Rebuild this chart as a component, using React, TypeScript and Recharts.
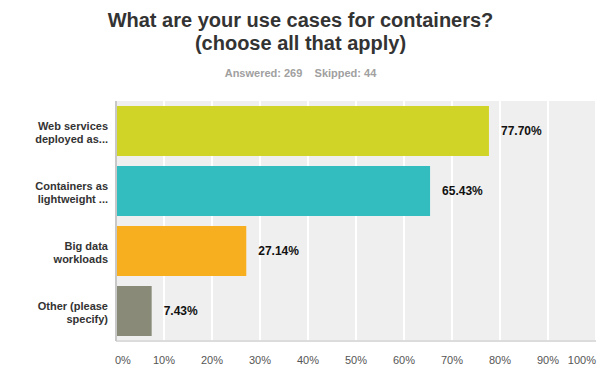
import { BarChart, Bar, XAxis, YAxis, CartesianGrid, Cell, LabelList } from "recharts";

const categories = [
  ["Web services", "deployed as..."],
  ["Containers as", "lightweight ..."],
  ["Big data", "workloads"],
  ["Other (please", "specify)"],
];
const values = [77.7, 65.43, 27.14, 7.43];
const colors = ["#d0d426", "#34bdbf", "#f7ae1f", "#898a78"];
const xTicks = [0, 10, 20, 30, 40, 50, 60, 70, 80, 90, 100];

const data = categories.map((lines, i) => ({ name: lines.join(" "), lines, value: values[i] }));

const FONT = "'Liberation Sans', Arial, Helvetica, sans-serif";

function YTick(props: any) {
  const { x, y, payload } = props;
  const lines = categories[payload.index] ?? [payload.value];
  return (
    <text x={x} y={y} textAnchor="end" fill="#333" fontSize={11} fontWeight="bold" fontFamily={FONT}>
      {lines.map((l, i) => (
        <tspan key={i} x={x} dy={i === 0 ? -1 : 12.5}>
          {l}
        </tspan>
      ))}
    </text>
  );
}

function XTick(props: any) {
  const { x, y, payload, index } = props;
  const anchor = index === 0 ? "start" : index === xTicks.length - 1 ? "end" : "middle";
  const dx = index === 0 ? -1 : 0;
  return (
    <text x={x + dx} y={y + 15} textAnchor={anchor} fill="#555" fontSize={11} fontFamily={FONT}>
      {`${payload.value}%`}
    </text>
  );
}

export default function App() {
  return (
    <div style={{ position: "relative", width: 601, height: 378, fontFamily: FONT, background: "#fff" }}>
      <style>{"body{margin:0}"}</style>
      <div
        style={{
          position: "absolute",
          top: 9,
          left: 0,
          width: 601,
          textAlign: "center",
          fontSize: 20,
          fontWeight: "bold",
          lineHeight: "23px",
          color: "#333",
        }}
      >
        What are your use cases for containers?
        <br />
        (choose all that apply)
      </div>
      <div
        style={{
          position: "absolute",
          top: 67,
          left: 0,
          width: 601,
          textAlign: "center",
          fontSize: 11,
          fontWeight: "bold",
          color: "#a0a0a0",
        }}
      >
        Answered: 269&nbsp;&nbsp;&nbsp;&nbsp;Skipped: 44
      </div>
      <div style={{ position: "absolute", top: 0, left: 0 }}>
        <BarChart
          width={601}
          height={378}
          layout="vertical"
          data={data}
          margin={{ top: 101, right: 5, bottom: 0, left: 0 }}
          barCategoryGap={5}
        >
          <CartesianGrid horizontal={false} fill="#efefef" stroke="#ffffff" strokeWidth={2} />
          <XAxis
            type="number"
            domain={[0, 100]}
            ticks={xTicks}
            interval={0}
            axisLine={{ stroke: "#dcdcdc", strokeWidth: 2 }}
            tickLine={false}
            tick={<XTick />}
            height={37}
          />
          <YAxis
            type="category"
            dataKey="name"
            width={116}
            axisLine={{ stroke: "#c8c8c8", strokeWidth: 2 }}
            tickLine={false}
            tick={<YTick />}
            interval={0}
          />
          <Bar dataKey="value" isAnimationActive={false}>
            {data.map((_, i) => (
              <Cell key={i} fill={colors[i]} />
            ))}
            <LabelList
              dataKey="value"
              position="right"
              offset={12}
              fill="#111"
              fontSize={12}
              fontWeight="bold"
              fontFamily={FONT}
              formatter={(v: any) => `${Number(v).toFixed(2)}%`}
            />
          </Bar>
        </BarChart>
      </div>
    </div>
  );
}
